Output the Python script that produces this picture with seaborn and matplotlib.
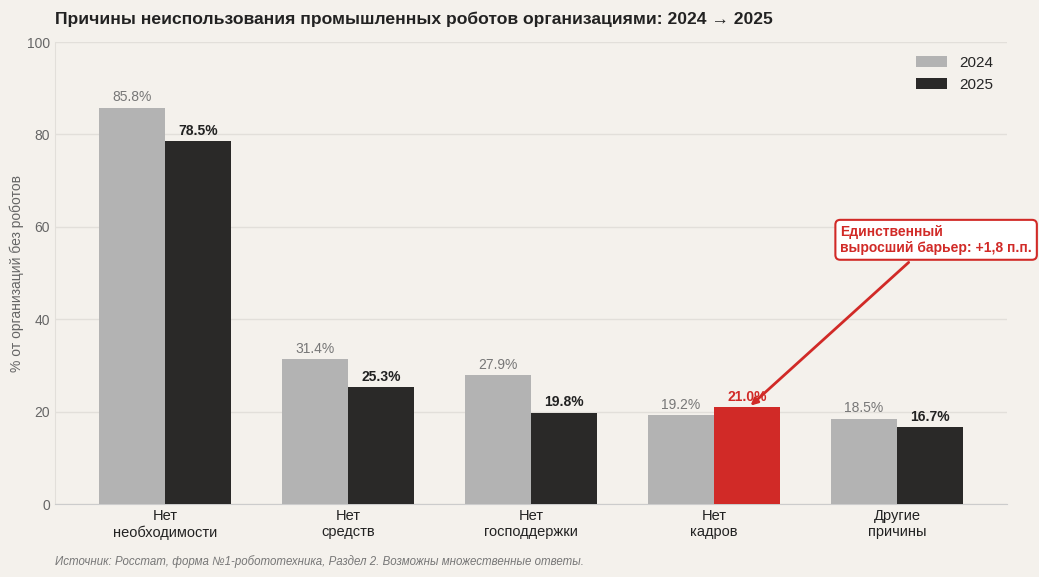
import pandas as pd
import matplotlib
matplotlib.use("Agg")
import matplotlib.pyplot as plt
import seaborn as sns

categories = ["Нет\nнеобходимости", "Нет\nсредств", "Нет\nгосподдержки", "Нет\nкадров", "Другие\nпричины"]
values_2024 = [85.8, 31.4, 27.9, 19.2, 18.5]
values_2025 = [78.5, 25.3, 19.8, 21.0, 16.7]
years = ["2024", "2025"]

bg = "#f4f1ec"
c24 = "#b3b3b3"
c25 = "#2a2928"
red = "#d12a27"

df = pd.DataFrame({
    "Причина": categories * 2,
    "Год": [years[0]] * 5 + [years[1]] * 5,
    "Значение": values_2024 + values_2025,
})

sns.set_style("white")
plt.rcParams["font.family"] = ["Liberation Sans", "DejaVu Sans"]

fig = plt.figure(figsize=(10.39, 5.77), dpi=100, facecolor=bg)
ax = fig.add_axes([0.053, 0.1265, 0.916, 0.8005])
ax.set_facecolor(bg)

sns.barplot(data=df, x="Причина", y="Значение", hue="Год", palette=[c24, c25],
            width=0.72, ax=ax, saturation=1, edgecolor="none", zorder=3)

# подсветить рост кадров
bars24 = ax.containers[0]
bars25 = ax.containers[1]
bars25[3].set_facecolor(red)

for b, v in zip(bars24, values_2024):
    ax.text(b.get_x() + b.get_width() / 2, v + 0.7, f"{v:.1f}%", ha="center", va="bottom",
            fontsize=10, color="#777777")
for i, (b, v) in enumerate(zip(bars25, values_2025)):
    ax.text(b.get_x() + b.get_width() / 2, v + 0.7, f"{v:.1f}%", ha="center", va="bottom",
            fontsize=10, fontweight="bold", color=red if i == 3 else "#222222")

ax.set_xlim(-0.6, 4.6)
ax.set_ylim(0, 100)
ax.set_yticks([0, 20, 40, 60, 80, 100])
ax.yaxis.grid(True, color="#e2dfda", linewidth=1, zorder=0)
ax.set_axisbelow(True)
ax.set_xlabel("")
ax.set_ylabel("% от организаций без роботов", fontsize=10, color="#666666", labelpad=2)
ax.tick_params(axis="y", labelsize=10, colors="#666666", length=0)
ax.tick_params(axis="x", labelsize=10.5, colors="#222222", length=0)
for s in ["top", "right"]:
    ax.spines[s].set_visible(False)
ax.spines["left"].set_color("#e2dfda")
ax.spines["bottom"].set_color("#cccccc")

leg = ax.legend(frameon=False, fontsize=11, loc="upper right", handlelength=2.0,
                bbox_to_anchor=(1.0, 1.0))

ax.annotate("Единственный\nвыросший барьер: +1,8 п.п.", xy=(3.2, 21.3), xytext=(3.69, 57.2),
            fontsize=10, fontweight="bold", color=red, ha="left", va="center",
            bbox=dict(boxstyle="round,pad=0.35", fc="white", ec=red, lw=1.5),
            arrowprops=dict(arrowstyle="-|>", color=red, lw=2, shrinkA=2, shrinkB=0,
                            relpos=(0.4, 0)))

fig.text(0.053, 0.967, "Причины неиспользования промышленных роботов организациями: 2024 → 2025",
         fontsize=12.6, fontweight="bold", color="#222222", ha="left", va="center")
fig.text(0.053, 0.026, "Источник: Росстат, форма №1-робототехника, Раздел 2. Возможны множественные ответы.",
         fontsize=8.3, style="italic", color="#777777", ha="left", va="center")

fig.savefig("out.png", dpi=100, facecolor=bg)
